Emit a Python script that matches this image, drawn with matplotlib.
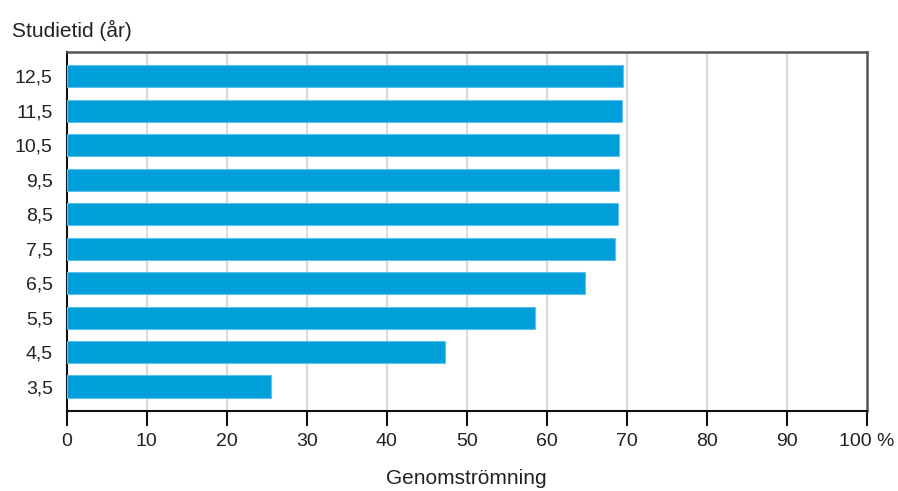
import matplotlib.pyplot as plt
import numpy as np

plt.rcParams['font.family'] = ['Liberation Sans', 'DejaVu Sans']

# data
categories = ['3,5', '4,5', '5,5', '6,5', '7,5', '8,5', '9,5', '10,5', '11,5', '12,5']
values = [25.5, 47.3, 58.6, 64.8, 68.6, 68.9, 69.1, 69.1, 69.4, 69.6]
x_ticks = [0, 10, 20, 30, 40, 50, 60, 70, 80, 90, 100]
x_labels = ['0', '10', '20', '30', '40', '50', '60', '70', '80', '90', '100 %']

fig = plt.figure(figsize=(8.98, 4.91), dpi=100)
ax = fig.add_axes([0.0743, 0.1636, 0.8907, 0.7304])

y = np.arange(len(categories))
ax.barh(y, values, height=0.64, color='#009fda', edgecolor='#5cc3ec',
        linewidth=0.8, zorder=3)

ax.set_xlim(0, 100)
ax.set_ylim(-0.7, len(categories) - 0.3)
ax.set_yticks(y)
ax.set_yticklabels(categories, fontsize=14, color='#222222')
ax.tick_params(axis='y', length=0, pad=10)
ax.set_xticks(x_ticks)
ax.set_xticklabels(x_labels, fontsize=14, color='#222222')
ax.tick_params(axis='x', length=11, width=1.5, color='#111111', pad=5)

for xv in x_ticks[1:-1]:
    ax.axvline(xv, color='#dadada', linewidth=1.5, zorder=1)

for side in ['top', 'right']:
    ax.spines[side].set_color('#555555')
    ax.spines[side].set_linewidth(1.8)
for side in ['left', 'bottom']:
    ax.spines[side].set_color('#111111')
    ax.spines[side].set_linewidth(1.5)

fig.text(12 / 898, 1 - 30 / 491, 'Studietid (år)', fontsize=15,
         color='#222222', ha='left', va='center')
ax.set_xlabel('Genomströmning', fontsize=15, color='#222222', labelpad=14)

fig.savefig('out.png', dpi=100, facecolor='white')
